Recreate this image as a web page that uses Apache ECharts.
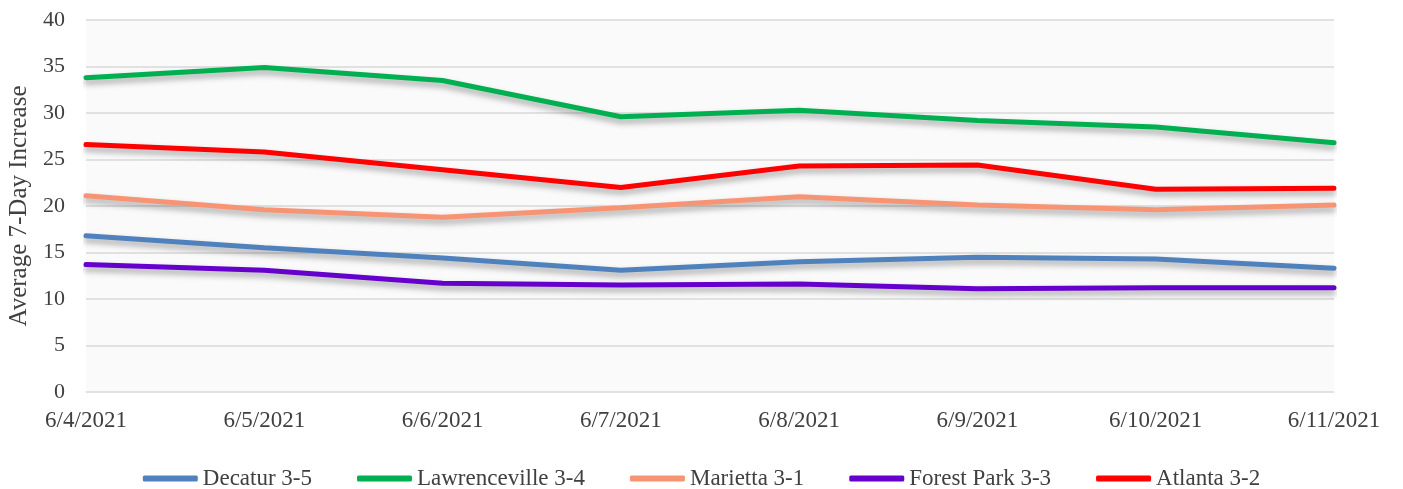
<!DOCTYPE html>
<html>
<head>
<meta charset="utf-8">
<script src="https://cdn.jsdelivr.net/npm/echarts@6/dist/echarts.min.js"></script>
<style>
  html, body { margin: 0; padding: 0; background: #fff; }
  #chart { width: 1403px; height: 489px; }
</style>
</head>
<body>
<div id="chart"></div>
<script>
const dates = ['6/4/2021', '6/5/2021', '6/6/2021', '6/7/2021', '6/8/2021', '6/9/2021', '6/10/2021', '6/11/2021'];
const decatur = [16.8, 15.5, 14.4, 13.1, 14.0, 14.5, 14.3, 13.3];
const lawrenceville = [33.8, 34.9, 33.5, 29.6, 30.3, 29.2, 28.5, 26.8];
const marietta = [21.1, 19.6, 18.8, 19.8, 21.0, 20.1, 19.6, 20.1];
const forestPark = [13.7, 13.1, 11.7, 11.5, 11.6, 11.1, 11.2, 11.2];
const atlanta = [26.6, 25.8, 23.9, 22.0, 24.3, 24.4, 21.8, 21.9];

const font = '"Liberation Serif", "DejaVu Serif", serif';

function makeLine(name, data, color) {
  return {
    name: name,
    type: 'line',
    data: data,
    symbol: 'none',
    color: color,
    lineStyle: {
      width: 5,
      color: color,
      cap: 'round',
      shadowColor: 'rgba(0,0,0,0.35)',
      shadowBlur: 6,
      shadowOffsetY: 4
    }
  };
}

const chart = echarts.init(document.getElementById('chart'));
let option = {
  animation: false,
  textStyle: { fontFamily: font },
  grid: {
    left: 86,
    right: 69,
    top: 20,
    bottom: 97,
    outerBoundsMode: 'none',
    containLabel: false,
    show: true,
    borderWidth: 0,
    backgroundColor: '#fafafa'
  },
  legend: {
    top: 462,
    left: 'center',
    itemGap: 45,
    itemWidth: 55,
    itemHeight: 6,
    icon: 'roundRect',
    textStyle: { fontFamily: font, fontSize: 23, color: '#404040' },
    data: ['Decatur 3-5', 'Lawrenceville 3-4', 'Marietta 3-1', 'Forest Park 3-3', 'Atlanta 3-2']
  },
  xAxis: {
    type: 'category',
    data: dates,
    boundaryGap: false,
    axisLine: { show: false },
    axisTick: { show: false },
    axisLabel: { fontFamily: font, fontSize: 23, color: '#404040', margin: 17 }
  },
  yAxis: {
    type: 'value',
    min: 0,
    max: 40,
    interval: 5,
    name: 'Average 7-Day Increase',
    nameLocation: 'middle',
    nameGap: 52,
    nameTextStyle: { fontFamily: font, fontSize: 25, color: '#404040' },
    axisLine: { show: false },
    axisTick: { show: false },
    axisLabel: { fontFamily: font, fontSize: 22, color: '#404040', margin: 21 },
    splitLine: { lineStyle: { color: '#d9d9d9', width: 1.5 } }
  },
  series: [
    makeLine('Decatur 3-5', decatur, '#4f81bd'),
    makeLine('Lawrenceville 3-4', lawrenceville, '#00b050'),
    makeLine('Marietta 3-1', marietta, '#f79473'),
    makeLine('Forest Park 3-3', forestPark, '#6600cc'),
    makeLine('Atlanta 3-2', atlanta, '#ff0000')
  ]
};
chart.setOption(option);
</script>
</body>
</html>
